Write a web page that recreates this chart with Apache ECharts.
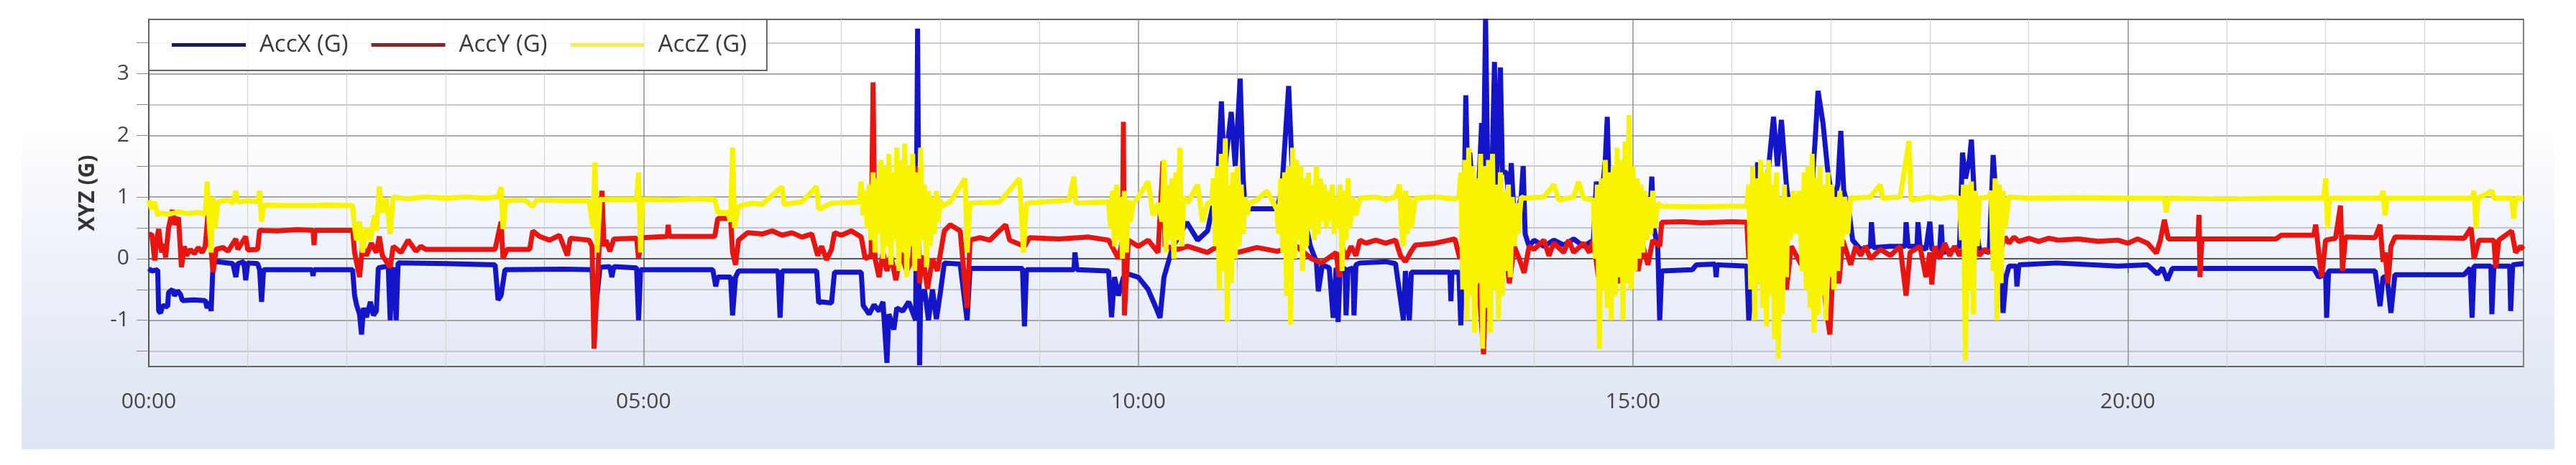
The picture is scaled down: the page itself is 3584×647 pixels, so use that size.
<!DOCTYPE html>
<html>
<head>
<meta charset="utf-8">
<title>AccXYZ</title>
<script src="https://cdn.jsdelivr.net/npm/echarts@6/dist/echarts.min.js"></script>
<style>
  html, body { margin: 0; padding: 0; background: #fff; }
  #wrap { position: relative; width: 3584px; height: 647px; }
  #panel {
    position: absolute; left: 30px; top: 0; width: 3524px; height: 625px;
    background: linear-gradient(to bottom, #ffffff 0%, #ffffff 28%, #eef2fa 55%, #e3e9f5 85%, #dde5f3 100%);
  }
  #chart { position: absolute; left: 0; top: 0; width: 3584px; height: 647px; }
</style>
</head>
<body>
<div id="wrap"><div id="panel"></div><div id="chart"></div></div>
<script>
// [hour, G]
var accX = [
  [0, -0.16], [0.03, -0.2], [0.09, -0.18], [0.1, -0.85], [0.12, -0.88], [0.14, -0.76], [0.19, -0.78], [0.2, -0.55],
  [0.24, -0.5], [0.26, -0.6], [0.29, -0.52], [0.32, -0.58], [0.34, -0.68], [0.45, -0.67], [0.57, -0.68], [0.59, -0.8],
  [0.62, -0.7], [0.63, -0.85], [0.65, -0.07], [0.7, -0.05], [0.85, -0.08], [0.88, -0.3], [0.9, -0.08], [0.96, -0.05],
  [0.98, -0.35], [1.0, -0.07], [1.1, -0.08], [1.12, -0.18], [1.14, -0.7], [1.16, -0.18], [1.65, -0.18], [1.66, -0.28],
  [1.67, -0.18], [2.06, -0.18], [2.08, -0.6], [2.1, -0.75], [2.13, -0.9], [2.15, -1.23], [2.17, -0.8], [2.2, -0.95],
  [2.24, -0.7], [2.27, -0.92], [2.3, -0.85], [2.32, -0.15], [2.42, -0.12], [2.44, -1.0], [2.46, -0.2], [2.48, -0.15],
  [2.5, -1.0], [2.52, -0.07], [3.0, -0.08], [3.5, -0.1], [3.53, -0.67], [3.56, -0.6], [3.6, -0.18], [4.2, -0.17],
  [4.48, -0.18], [4.5, -1.0], [4.53, -0.6], [4.56, -0.14], [4.66, -0.13], [4.68, -0.3], [4.7, -0.13], [4.93, -0.15],
  [4.95, -1.0], [4.97, -0.18], [5.7, -0.18], [5.73, -0.45], [5.75, -0.3], [5.88, -0.3], [5.9, -0.92], [5.93, -0.3],
  [5.96, -0.2], [6.36, -0.2], [6.38, -0.96], [6.4, -0.2], [6.75, -0.2], [6.77, -0.72], [6.8, -0.7], [6.9, -0.72],
  [6.93, -0.22], [7.2, -0.22], [7.22, -0.76], [7.28, -0.9], [7.33, -0.75], [7.38, -0.85], [7.42, -0.7], [7.46, -1.69],
  [7.48, -0.9], [7.53, -1.15], [7.56, -0.8], [7.62, -0.85], [7.68, -0.7], [7.75, -1.0], [7.77, 3.73], [7.79, -1.73],
  [7.8, -0.7], [7.84, -0.5], [7.88, -1.0], [7.92, -0.5], [7.96, -0.98], [8.0, -0.55], [8.04, -0.07], [8.2, -0.09],
  [8.27, -1.0], [8.3, -0.16], [8.83, -0.16], [8.85, -1.1], [8.87, -0.18], [9.35, -0.18], [9.36, 0.1], [9.38, -0.18],
  [9.7, -0.2], [9.73, -0.95], [9.76, -0.3], [9.8, -0.6], [9.85, -0.3], [9.9, -0.25], [10.0, -0.3], [10.1, -0.5],
  [10.18, -0.8], [10.22, -0.96], [10.26, -0.3], [10.35, 0.2], [10.49, 0.59], [10.6, 0.3], [10.7, 0.45], [10.8, 1.2],
  [10.84, 2.55], [10.87, 1.4], [10.94, 2.38], [10.98, 1.5], [11.03, 2.92], [11.06, 1.3], [11.08, 0.81], [11.4, 0.81],
  [11.45, 1.1], [11.52, 2.8], [11.56, 1.25], [11.6, 0.9], [11.7, 0.5], [11.74, 0.2], [11.8, -0.05], [11.82, -0.53],
  [11.86, -0.1], [11.93, -0.15], [11.97, -0.96], [12.0, -0.15], [12.02, -1.03], [12.04, -0.18], [12.09, -0.15], [12.1, -0.92],
  [12.12, -0.18], [12.17, -0.15], [12.18, -0.92], [12.2, -0.1], [12.24, -0.07], [12.5, -0.05], [12.6, -0.08], [12.68, -1.0],
  [12.7, -0.2], [12.74, -1.0], [12.76, -0.22], [13.15, -0.22], [13.16, -0.69], [13.17, -0.22], [13.24, -0.22], [13.26, -1.08],
  [13.29, 0.5], [13.31, 2.65], [13.33, 1.3], [13.35, 1.72], [13.39, 0.9], [13.44, 1.1], [13.47, 2.2], [13.49, 1.5],
  [13.51, 3.89], [13.53, 1.6], [13.57, 1.0], [13.6, 3.19], [13.62, 1.2], [13.66, 3.1], [13.68, 1.4], [13.72, 1.4],
  [13.75, 0.9], [13.77, 1.55], [13.8, 0.6], [13.87, 1.0], [13.89, 1.5], [13.91, 0.4], [13.95, 0.2], [14.0, 0.3],
  [14.1, 0.2], [14.2, 0.3], [14.3, 0.22], [14.4, 0.32], [14.5, 0.2], [14.6, 0.3], [14.63, 1.25], [14.66, 0.6],
  [14.72, 1.6], [14.74, 2.3], [14.76, 1.0], [14.82, 0.4], [14.9, 0.6], [15.0, 0.3], [15.1, 0.5], [15.18, 1.0],
  [15.19, 1.33], [15.21, 0.5], [15.25, 0.2], [15.27, -1.0], [15.29, -0.2], [15.6, -0.18], [15.64, -0.1], [15.83, -0.09],
  [15.84, -0.3], [15.85, -0.1], [16.15, -0.12], [16.17, -1.0], [16.2, -0.5], [16.23, 1.0], [16.26, 1.56], [16.3, 0.8],
  [16.36, 1.3], [16.42, 2.3], [16.46, 1.5], [16.5, 2.25], [16.55, 1.2], [16.6, 0.6], [16.7, 0.75], [16.78, 0.5],
  [16.84, 1.9], [16.87, 2.72], [16.92, 2.2], [16.97, 1.4], [17.02, 0.9], [17.07, 1.2], [17.1, 2.07], [17.13, 1.1],
  [17.18, 0.8], [17.22, 0.3], [17.3, 0.15], [17.4, 0.2], [17.41, 0.59], [17.43, 0.18], [17.6, 0.2], [17.75, 0.2],
  [17.76, 0.59], [17.78, 0.2], [17.87, 0.2], [17.88, 0.59], [17.9, 0.2], [17.96, 0.15], [18.0, 0.6], [18.02, 0.15],
  [18.1, 0.15], [18.115, 0.55], [18.13, 0.1], [18.2, 0.12], [18.3, 0.2], [18.33, 1.72], [18.36, 1.3], [18.4, 1.6],
  [18.42, 1.93], [18.44, 1.3], [18.46, 0.6], [18.5, 0.15], [18.6, 0.1], [18.64, 1.68], [18.66, 1.2], [18.7, 0.8],
  [18.74, -0.88], [18.77, -0.3], [18.8, -0.12], [18.87, -0.12], [18.88, -0.45], [18.9, -0.1], [19.28, -0.07], [19.9, -0.12],
  [20.2, -0.1], [20.3, -0.25], [20.35, -0.15], [20.4, -0.35], [20.45, -0.16], [21.88, -0.16], [21.93, -0.3], [22.0, -0.25],
  [22.01, -0.96], [22.03, -0.2], [22.5, -0.2], [22.55, -0.77], [22.58, -0.3], [22.62, -0.3], [22.66, -0.88], [22.7, -0.26],
  [23.4, -0.26], [23.46, -0.15], [23.48, -0.96], [23.5, -0.12], [23.67, -0.12], [23.68, -0.9], [23.7, -0.12], [23.86, -0.12],
  [23.87, -0.85], [23.89, -0.1], [24.0, -0.08]
];

var accY = [
  [0, 0.38], [0.03, 0.4], [0.06, -0.03], [0.08, 0.3], [0.1, 0.48], [0.13, 0.1], [0.15, 0.24], [0.17, 0.02],
  [0.2, 0.5], [0.24, 0.79], [0.26, 0.55], [0.3, 0.67], [0.33, -0.14], [0.36, 0.2], [0.38, 0.05], [0.42, 0.15],
  [0.46, 0.08], [0.5, 0.18], [0.54, 0.1], [0.57, 0.2], [0.6, 0.75], [0.62, 0.3], [0.65, -0.22], [0.68, 0.15],
  [0.75, 0.18], [0.8, 0.12], [0.88, 0.32], [0.9, 0.15], [0.98, 0.36], [1.0, 0.14], [1.1, 0.15], [1.12, 0.46],
  [1.3, 0.45], [1.5, 0.47], [1.66, 0.46], [1.67, 0.22], [1.68, 0.46], [2.06, 0.46], [2.08, 0.1], [2.13, -0.3],
  [2.16, 0.2], [2.2, 0.05], [2.25, 0.25], [2.3, 0.1], [2.33, 0.36], [2.36, 0.05], [2.44, -0.14], [2.47, 0.2],
  [2.55, 0.1], [2.62, 0.3], [2.7, 0.12], [2.75, 0.2], [2.8, 0.15], [3.5, 0.15], [3.56, 0.6], [3.58, 0.0],
  [3.62, 0.15], [3.85, 0.15], [3.88, 0.45], [3.95, 0.36], [4.05, 0.3], [4.15, 0.38], [4.23, 0.05], [4.26, 0.33],
  [4.45, 0.3], [4.48, 0.2], [4.5, -1.46], [4.53, -0.5], [4.58, 1.1], [4.6, 0.2], [4.62, 0.3], [4.66, 0.12],
  [4.7, 0.32], [4.93, 0.33], [4.95, 0.0], [4.98, 0.34], [5.24, 0.36], [5.25, 0.55], [5.26, 0.36], [5.72, 0.36],
  [5.75, 0.65], [5.88, 0.65], [5.9, 0.1], [5.93, -0.1], [5.96, 0.3], [6.05, 0.42], [6.2, 0.4], [6.3, 0.45],
  [6.4, 0.38], [6.5, 0.42], [6.6, 0.35], [6.7, 0.4], [6.76, 0.05], [6.8, 0.2], [6.85, -0.02], [6.9, 0.15],
  [6.93, 0.42], [7.0, 0.38], [7.1, 0.45], [7.2, 0.35], [7.24, 0.0], [7.3, 0.05], [7.32, 2.86], [7.34, 0.0],
  [7.38, -0.3], [7.42, 0.1], [7.46, -0.2], [7.5, 0.05], [7.55, -0.35], [7.6, 0.1], [7.66, -0.2], [7.72, 0.0],
  [7.77, 1.5], [7.79, -0.4], [7.82, 0.05], [7.87, -0.49], [7.92, 0.0], [7.97, -0.2], [8.04, 0.45], [8.1, 0.55],
  [8.2, 0.45], [8.27, -0.8], [8.3, 0.3], [8.4, 0.34], [8.5, 0.3], [8.66, 0.55], [8.7, 0.3], [8.85, 0.2],
  [8.9, 0.34], [9.2, 0.32], [9.5, 0.35], [9.7, 0.3], [9.8, 0.0], [9.84, 0.3], [9.85, 2.22], [9.86, -0.92],
  [9.9, 0.3], [10.0, 0.2], [10.1, 0.3], [10.2, 0.1], [10.25, 1.58], [10.27, 0.2], [10.4, 0.15], [10.5, 0.2],
  [10.7, 0.1], [10.8, 0.2], [11.0, 0.1], [11.2, 0.18], [11.4, 0.12], [11.6, 0.2], [11.75, 0.0], [11.85, -0.07],
  [12.0, 0.1], [12.03, -0.3], [12.06, 0.2], [12.1, 0.0], [12.15, 0.2], [12.2, 0.05], [12.24, 0.3], [12.3, 0.25],
  [12.4, 0.3], [12.5, 0.25], [12.6, 0.3], [12.65, 0.05], [12.7, -0.05], [12.75, 0.1], [12.8, 0.22], [13.0, 0.25],
  [13.2, 0.32], [13.25, 0.0], [13.3, 0.4], [13.35, -0.3], [13.4, 0.5], [13.45, -0.6], [13.49, -1.55], [13.52, 0.3],
  [13.56, -0.5], [13.6, 0.6], [13.65, -0.2], [13.7, 0.4], [13.75, -0.4], [13.8, 0.2], [13.85, 0.0], [13.9, -0.23],
  [13.95, 0.2], [14.0, 0.15], [14.1, 0.3], [14.15, 0.05], [14.2, 0.25], [14.3, 0.1], [14.35, 0.3], [14.4, 0.1],
  [14.5, 0.25], [14.56, 0.1], [14.6, 0.3], [14.65, -0.3], [14.7, 0.2], [14.75, -0.2], [14.8, 0.3], [14.85, -0.4],
  [14.9, 0.25], [14.95, -0.1], [15.0, 0.3], [15.05, -0.2], [15.1, 0.2], [15.15, -0.1], [15.2, 0.3], [15.27, 0.2],
  [15.29, 0.59], [15.5, 0.6], [15.7, 0.58], [16.0, 0.6], [16.15, 0.59], [16.17, 0.0], [16.2, 0.4], [16.25, -0.4],
  [16.3, 0.3], [16.35, -0.6], [16.4, 0.2], [16.45, -0.3], [16.5, 0.5], [16.55, -0.5], [16.6, 0.2], [16.7, -0.1],
  [16.75, 0.3], [16.8, -0.5], [16.85, -0.9], [16.9, 0.1], [16.95, -0.8], [16.99, -1.23], [17.03, 0.2], [17.08, -0.4],
  [17.12, 0.3], [17.2, -0.1], [17.25, 0.2], [17.3, 0.05], [17.35, 0.2], [17.4, 0.0], [17.5, 0.15], [17.6, 0.05],
  [17.7, 0.2], [17.76, -0.6], [17.8, 0.1], [17.9, 0.2], [17.96, -0.3], [18.0, 0.1], [18.02, -0.42], [18.05, 0.2],
  [18.1, 0.0], [18.15, 0.25], [18.2, 0.05], [18.25, 0.2], [18.3, 0.05], [18.35, 0.2], [18.4, 0.1], [18.45, 0.2],
  [18.5, 0.05], [18.55, 0.15], [18.6, 0.1], [18.65, 0.2], [18.7, 0.08], [18.76, 0.35], [18.8, 0.25], [18.85, 0.35],
  [18.9, 0.28], [19.0, 0.33], [19.1, 0.28], [19.2, 0.33], [19.3, 0.3], [19.5, 0.32], [19.7, 0.28], [19.9, 0.3],
  [20.0, 0.25], [20.1, 0.32], [20.2, 0.25], [20.29, 0.09], [20.33, 0.3], [20.37, 0.63], [20.41, 0.32], [20.71, 0.32],
  [20.72, 0.71], [20.73, -0.3], [20.75, 0.32], [21.5, 0.32], [21.55, 0.38], [21.88, 0.38], [21.9, 0.55], [21.93, 0.1],
  [21.96, -0.3], [22.0, 0.3], [22.1, 0.33], [22.15, 0.86], [22.17, -0.2], [22.2, 0.35], [22.5, 0.34], [22.55, 0.55],
  [22.58, -0.05], [22.6, 0.1], [22.63, -0.4], [22.66, 0.2], [22.7, 0.35], [23.4, 0.33], [23.47, 0.5], [23.5, 0.0],
  [23.55, 0.3], [23.7, 0.3], [23.72, -0.15], [23.75, 0.3], [23.88, 0.45], [23.92, 0.1], [23.97, 0.2], [24.0, 0.15]
];

var accZ = [
  [0, 0.95], [0.03, 0.8], [0.06, 0.92], [0.09, 0.7], [0.12, 0.74], [0.2, 0.72], [0.3, 0.76], [0.4, 0.73],
  [0.5, 0.75], [0.57, 0.72], [0.59, 1.25], [0.61, 0.6], [0.63, 0.1], [0.65, 1.0], [0.67, 0.5], [0.7, 0.92],
  [0.8, 0.95], [0.85, 0.9], [0.88, 1.1], [0.9, 0.92], [1.0, 0.94], [1.1, 0.92], [1.12, 1.1], [1.14, 0.6],
  [1.16, 0.87], [1.4, 0.86], [1.66, 0.86], [1.8, 0.87], [2.06, 0.86], [2.08, 0.5], [2.1, 0.3], [2.13, 0.6],
  [2.16, 0.1], [2.2, 0.5], [2.24, 0.3], [2.28, 0.7], [2.3, 0.45], [2.33, 1.17], [2.36, 0.75], [2.4, 0.98],
  [2.44, 0.4], [2.47, 1.0], [2.6, 0.97], [2.8, 1.0], [3.0, 0.98], [3.2, 1.0], [3.4, 0.98], [3.53, 1.0],
  [3.56, 1.16], [3.58, 0.48], [3.61, 0.94], [3.8, 0.95], [3.88, 0.85], [3.92, 0.95], [4.2, 0.94], [4.45, 0.94],
  [4.49, 0.5], [4.51, 1.56], [4.53, 0.1], [4.56, 0.96], [4.8, 0.96], [4.93, 0.96], [4.95, 1.4], [4.97, 0.1],
  [4.99, 0.96], [5.3, 0.95], [5.5, 0.97], [5.72, 0.96], [5.75, 0.75], [5.85, 0.75], [5.88, 0.6], [5.9, 1.8],
  [5.92, 0.5], [5.96, 0.85], [6.1, 0.9], [6.2, 0.88], [6.4, 1.17], [6.42, 0.88], [6.6, 0.92], [6.75, 1.17],
  [6.77, 0.8], [6.9, 0.9], [7.18, 0.92],
  [7.2, 1.25], [7.22, 0.7], [7.24, 1.1], [7.26, 0.5], [7.28, 1.2], [7.3, 0.3], [7.32, 1.4], [7.34, 0.1],
  [7.36, 1.3], [7.38, 0.4], [7.4, 1.6], [7.42, 0.0], [7.44, 1.5], [7.46, 0.2], [7.48, 1.7], [7.5, -0.1],
  [7.52, 1.4], [7.54, 0.3], [7.56, 1.8], [7.58, -0.2], [7.6, 1.6], [7.62, 0.1], [7.64, 1.87], [7.66, -0.3],
  [7.68, 1.5], [7.7, 0.2], [7.72, 1.7], [7.74, -0.2], [7.76, 1.4], [7.78, 0.0], [7.8, 1.8], [7.82, 0.3],
  [7.84, 1.2], [7.86, -0.14], [7.88, 1.1], [7.9, 0.2], [7.92, 1.0], [7.94, 0.4], [7.96, 1.1], [7.98, 0.6],
  [8.0, 0.95], [8.02, 0.85], [8.1, 0.92], [8.25, 1.3], [8.27, 0.1], [8.3, 0.9], [8.6, 0.92], [8.8, 1.3],
  [8.84, 0.1], [8.87, 0.9], [9.3, 0.95], [9.35, 1.33], [9.37, 0.9], [9.7, 0.92], [9.72, 0.5], [9.74, 1.1],
  [9.76, 0.2], [9.78, 1.2], [9.8, 0.3], [9.82, 1.0], [9.84, 0.0], [9.86, 1.1], [9.88, 0.1], [9.9, 0.95],
  [9.92, 0.6], [9.95, 0.9], [10.0, 1.0], [10.1, 1.25], [10.15, 0.7], [10.2, 0.9], [10.24, 0.6], [10.26, 1.6],
  [10.28, 0.1], [10.3, 1.2], [10.32, 0.3], [10.34, 1.3], [10.36, 0.0], [10.38, 1.4], [10.4, 0.3], [10.42, 1.8],
  [10.44, 0.2], [10.46, 1.0], [10.5, 0.9], [10.6, 1.2], [10.65, 0.6], [10.7, 0.9], [10.74, 0.9], [10.76, 1.3],
  [10.78, 0.2], [10.8, 1.5], [10.82, -0.5], [10.84, 1.7], [10.86, -0.2], [10.88, 1.95], [10.9, -1.03], [10.92, 1.2],
  [10.94, -0.4], [10.96, 1.4], [10.98, 0.0], [11.0, 1.5], [11.02, 0.2], [11.04, 1.2], [11.06, 0.4], [11.08, 1.0],
  [11.1, 0.7], [11.12, 0.9], [11.2, 0.95], [11.3, 1.1], [11.4, 0.8], [11.42, 0.4], [11.44, 1.3], [11.46, 0.1],
  [11.48, 1.4], [11.5, -0.6], [11.52, 1.5], [11.54, -1.07], [11.56, 1.8], [11.58, 0.0], [11.6, 1.6], [11.62, 0.3],
  [11.64, 1.5], [11.66, -0.2], [11.68, 1.3], [11.7, 0.2], [11.72, 1.4], [11.74, 0.5], [11.76, 1.2], [11.78, 0.3],
  [11.8, 1.5], [11.82, 0.4], [11.84, 1.3], [11.86, 0.6], [11.88, 1.2], [11.9, 0.5], [11.92, 1.1], [11.94, 0.6],
  [11.96, 1.2], [11.98, 0.4], [12.0, 1.0], [12.02, 0.5], [12.04, 1.2], [12.06, -0.2], [12.08, 1.1], [12.1, 0.3],
  [12.12, 1.3], [12.14, 0.5], [12.17, 1.0], [12.2, 0.7], [12.24, 0.98], [12.4, 1.0], [12.5, 0.96], [12.6, 1.0],
  [12.64, 1.2], [12.66, 0.5], [12.68, 0.2], [12.7, 1.1], [12.72, 0.4], [12.74, 1.0], [12.76, 0.5], [12.8, 0.98],
  [13.0, 1.0], [13.2, 0.97], [13.24, 1.0], [13.26, 1.4], [13.28, -0.5], [13.3, 1.6], [13.32, -1.0], [13.34, 1.8],
  [13.36, -0.6], [13.38, 1.5], [13.4, -1.2], [13.42, 1.3], [13.44, -0.4], [13.46, 1.7], [13.48, -1.46], [13.5, 1.5],
  [13.52, -0.8], [13.54, 1.6], [13.56, -1.2], [13.58, 1.7], [13.6, -0.5], [13.62, 1.2], [13.64, -1.0], [13.66, 1.4],
  [13.68, -0.6], [13.7, 1.1], [13.72, -0.2], [13.74, 1.2], [13.76, -0.3], [13.78, 1.0], [13.8, 0.2], [13.82, 0.9],
  [13.84, 0.4], [13.87, 1.0], [13.9, 0.98], [14.1, 1.0], [14.2, 1.2], [14.25, 0.95], [14.4, 1.0], [14.45, 1.25],
  [14.5, 0.98], [14.6, 0.95], [14.62, 0.0], [14.64, 1.2], [14.66, -1.46], [14.68, 1.3], [14.7, -0.5], [14.72, 1.6],
  [14.74, -0.8], [14.76, 1.4], [14.78, -1.0], [14.8, 1.5], [14.82, -0.6], [14.84, 1.8], [14.86, -0.3], [14.88, 1.6],
  [14.9, -1.0], [14.92, 1.9], [14.94, -0.4], [14.96, 2.33], [14.98, -0.5], [15.0, 1.5], [15.02, -0.2], [15.04, 1.3],
  [15.06, 0.0], [15.08, 1.2], [15.1, 0.1], [15.12, 1.1], [15.14, 0.3], [15.16, 1.0], [15.18, 0.4], [15.2, 1.1],
  [15.22, 0.5], [15.25, 0.9], [15.29, 0.85], [15.6, 0.84], [16.0, 0.85], [16.15, 0.85], [16.17, 1.2], [16.19, -0.5],
  [16.21, 1.5], [16.23, -1.0], [16.25, 1.3], [16.27, -0.4], [16.29, 1.6], [16.31, -0.8], [16.33, 1.4], [16.35, -1.1],
  [16.37, 1.6], [16.39, -0.6], [16.41, 1.2], [16.43, -1.3], [16.45, 1.4], [16.47, -1.62], [16.49, 1.0], [16.51, -0.9],
  [16.53, 1.2], [16.55, -0.3], [16.57, 1.0], [16.59, 0.3], [16.62, 1.1], [16.65, 0.4], [16.68, 1.1], [16.71, -0.2],
  [16.73, 1.4], [16.75, -0.5], [16.77, 1.5], [16.79, -0.8], [16.81, 1.7], [16.83, -1.2], [16.85, 1.3], [16.87, -0.9],
  [16.89, 1.5], [16.91, -0.6], [16.93, 1.2], [16.95, -1.0], [16.97, 1.4], [16.99, -0.3], [17.01, 1.2], [17.03, -0.5],
  [17.05, 1.0], [17.07, -0.2], [17.09, 1.1], [17.11, 0.2], [17.14, 1.0], [17.17, 0.4], [17.2, 1.0], [17.22, 0.98],
  [17.4, 1.0], [17.5, 1.2], [17.52, 0.98], [17.7, 1.0], [17.79, 1.91], [17.81, 0.95], [18.0, 1.0], [18.1, 0.97],
  [18.2, 1.0], [18.3, 0.98], [18.32, 0.3], [18.34, 1.2], [18.36, -1.65], [18.38, 1.2], [18.4, -0.5], [18.42, 1.25],
  [18.44, -0.9], [18.46, 1.1], [18.48, 0.2], [18.5, 0.98], [18.6, 1.0], [18.62, 1.1], [18.64, -0.2], [18.66, 1.3],
  [18.68, -1.0], [18.7, 1.2], [18.72, -0.4], [18.74, 1.1], [18.76, 0.5], [18.8, 1.0], [19.0, 0.98], [19.5, 0.99],
  [20.0, 0.98], [20.37, 0.98], [20.39, 0.75], [20.41, 0.98], [21.0, 0.97], [21.5, 0.98], [21.98, 0.98], [22.0, 1.3],
  [22.02, 0.5], [22.04, 0.98], [22.56, 0.98], [22.58, 1.1], [22.6, 0.7], [22.62, 0.98], [23.48, 0.98], [23.5, 1.1],
  [23.52, 0.5], [23.54, 0.98], [23.68, 1.1], [23.7, 0.98], [23.88, 0.98], [23.9, 0.65], [23.92, 0.98], [24.0, 0.98]
];

var seriesNames = ['AccX (G)', 'AccY (G)', 'AccZ (G)'];
var xLabelHours = [0, 5, 10, 15, 20];
var yTickValues = [-1.5, -1, -0.5, 0, 0.5, 1, 1.5, 2, 2.5, 3, 3.5];
var yLabelValues = [-1, 0, 1, 2, 3];

var chart = echarts.init(document.getElementById('chart'), null, { renderer: 'canvas' });

function hourLabel(v) {
  if (xLabelHours.indexOf(v) < 0) return '';
  return (v < 10 ? '0' + v : '' + v) + ':00';
}

function lineSeries(name, data, color) {
  return {
    name: name,
    type: 'line',
    data: data,
    showSymbol: false,
    symbol: 'none',
    sampling: null,
    color: color,
    lineStyle: { width: 7, color: color, join: 'bevel' }
  };
}

chart.setOption({
  animation: false,
  textStyle: { fontFamily: 'Open Sans' },
  grid: {
    left: 207, top: 27, right: 73, bottom: 137,
    show: true, borderColor: '#666', borderWidth: 2
  },
  legend: {
    left: 207, top: 27,
    padding: [19, 28, 19, 32],
    backgroundColor: 'rgba(255,255,255,0.85)',
    borderColor: '#666', borderWidth: 2,
    icon: 'rect', itemWidth: 103, itemHeight: 5, itemGap: 32,
    textStyle: { fontFamily: 'Open Sans', fontSize: 33, color: '#3a3a3a', padding: [0, 0, 0, 14] },
    data: [
      { name: seriesNames[0], itemStyle: { color: '#1c1c55' } },
      { name: seriesNames[1], itemStyle: { color: '#7a2a2a' } },
      { name: seriesNames[2], itemStyle: { color: '#eeee66' } }
    ]
  },
  xAxis: {
    type: 'value', min: 0, max: 24, interval: 5,
    axisLine: { lineStyle: { color: '#555', width: 2 } },
    axisTick: { length: 20, lineStyle: { color: '#666', width: 1.5 } },
    minorTick: { show: true, splitNumber: 5, length: 13, lineStyle: { color: '#aaa', width: 1 } },
    splitLine: { show: true, lineStyle: { color: '#8c8c8c', width: 1.5 } },
    minorSplitLine: { show: true, lineStyle: { color: '#d0d0d0', width: 1 } },
    axisLabel: { formatter: hourLabel, fontFamily: 'Open Sans', fontSize: 30, color: '#444', margin: 34 }
  },
  yAxis: {
    type: 'value', min: -1.75, max: 3.88,
    name: 'XYZ (G)', nameLocation: 'middle', nameGap: 70,
    nameTextStyle: { fontFamily: 'Open Sans', fontSize: 30, fontWeight: 'bold', color: '#333' },
    axisLine: { show: true, lineStyle: { color: '#555', width: 2 } },
    axisTick: { show: true, length: 17, customValues: yTickValues, lineStyle: { color: '#888' } },
    splitLine: { show: true, lineStyle: { color: ['#b8b8b8', '#8c8c8c'], width: 1.5 } },
    axisLabel: { customValues: yLabelValues, fontFamily: 'Open Sans', fontSize: 30, color: '#444', margin: 27 }
  },
  series: [
    lineSeries(seriesNames[0], accX, '#1414c8'),
    lineSeries(seriesNames[1], accY, '#e81410'),
    lineSeries(seriesNames[2], accZ, '#f8f400')
  ]
});
</script>
</body>
</html>
